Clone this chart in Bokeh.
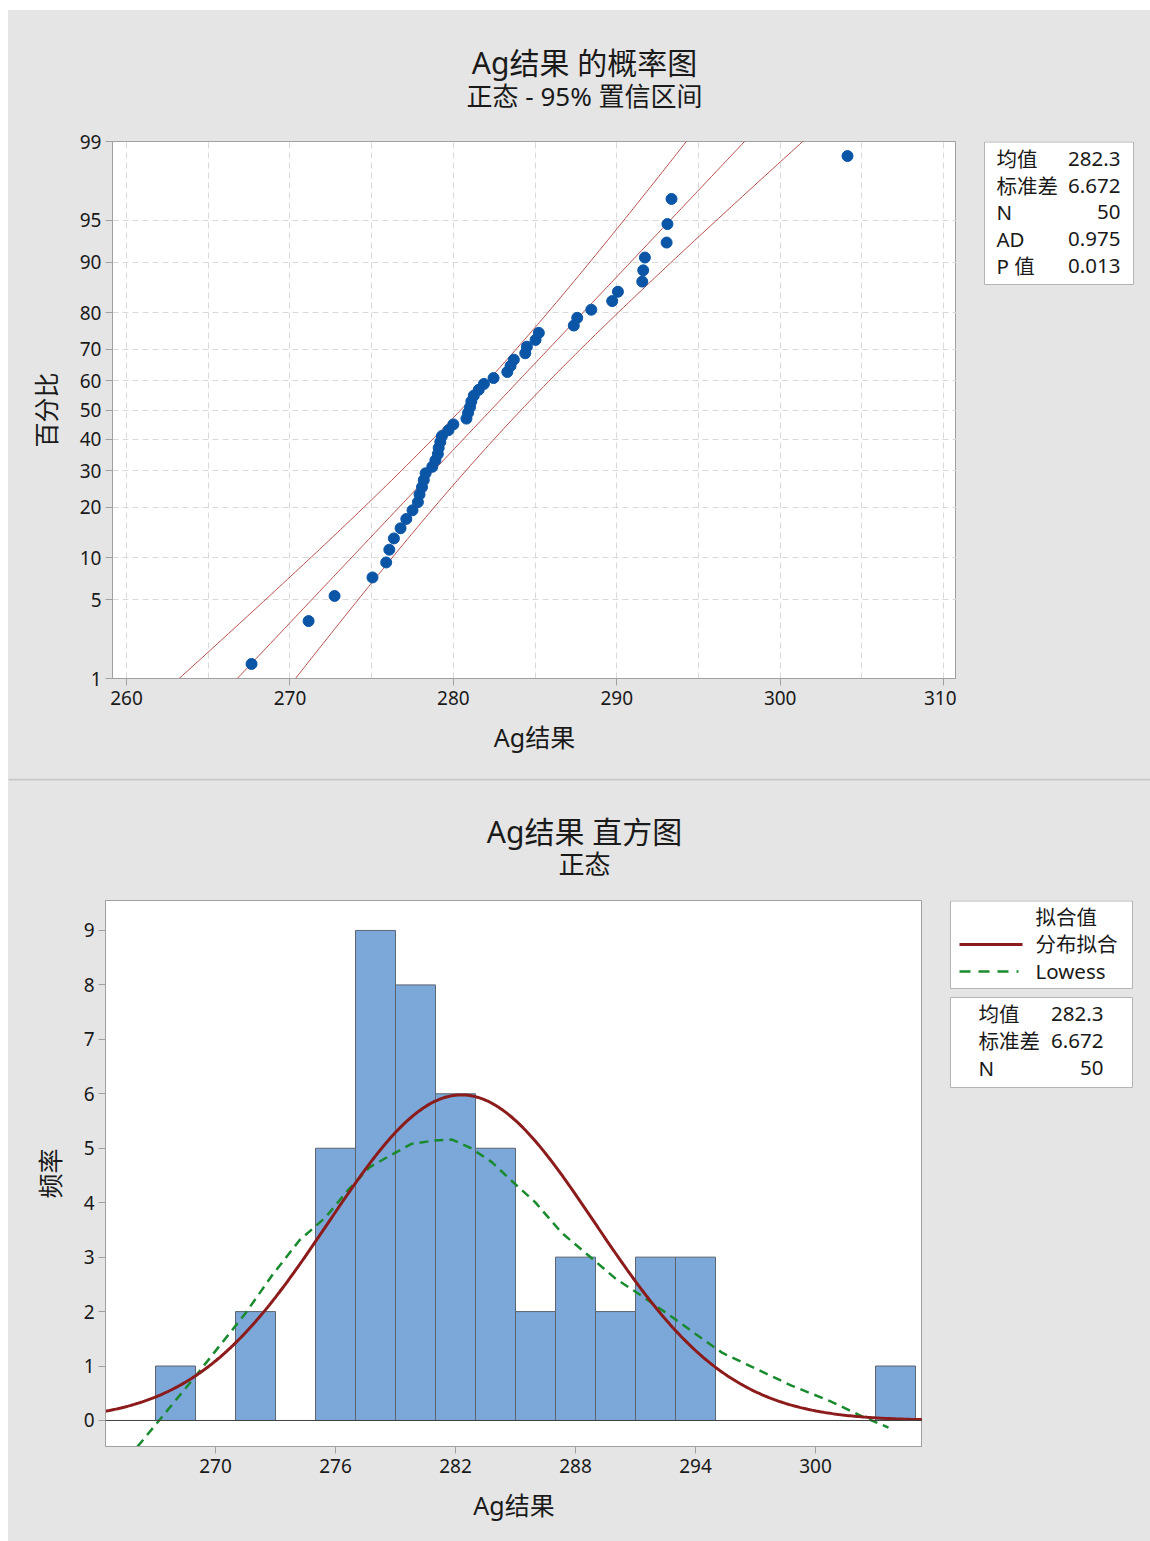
import numpy as np
from statistics import NormalDist
from bokeh.plotting import figure
from bokeh.layouts import column, row
from bokeh.models import Range1d, FixedTicker, Span, Spacer
from bokeh.core.properties import value
from bokeh.embed import file_html
from bokeh.resources import INLINE

# ---------------- data ----------------
AG_VALUES = [267.65, 271.14, 272.73, 275.05, 275.89, 276.08, 276.36, 276.77, 277.12, 277.50,
             277.83, 277.93, 278.08, 278.19, 278.30, 278.71, 278.90, 279.05, 279.10, 279.20,
             279.30, 279.70, 280.00, 280.80, 280.90, 281.02, 281.10, 281.25, 281.55, 281.87,
             282.46, 283.30, 283.50, 283.70, 284.40, 284.50, 285.03, 285.23, 287.37, 287.58,
             288.44, 289.72, 290.07, 291.56, 291.62, 291.72, 293.05, 293.10, 293.35, 304.12]
MEAN = 282.3
STDEV = 6.672
N_OBS = 50
PCT_TICKS = [1, 5, 10, 20, 30, 40, 50, 60, 70, 80, 90, 95, 99]
PROB_X_TICKS = [260, 270, 280, 290, 300, 310]
PROB_X_GRID = [265, 275, 285, 295, 305]
BIN_EDGES = list(range(267, 306, 2))
HIST_X_TICKS = [270, 276, 282, 288, 294, 300]
HIST_Y_TICKS = list(range(10))
LOWESS_X = [266.1, 267.18, 268.97, 271.5, 272.86, 274.2, 275.5, 276.6, 277.7, 278.75, 279.8,
            280.9, 281.83, 282.77, 283.8, 284.9, 285.98, 287.3, 288.65, 289.99, 291.3, 292.67,
            294.0, 295.35, 297.2, 298.8, 300.7, 302.3, 303.65]
LOWESS_Y = [-0.48, 0.0, 0.80, 1.97, 2.68, 3.31, 3.73, 4.22, 4.65, 4.87, 5.08,
            5.14, 5.16, 5.00, 4.75, 4.37, 4.01, 3.45, 3.03, 2.61, 2.29, 1.94,
            1.59, 1.24, 0.92, 0.64, 0.36, 0.08, -0.13]
TOP_STAT_LABELS = ["均值", "标准差", "N", "AD", "P 值"]
TOP_STAT_VALUES = ["282.3", "6.672", "50", "0.975", "0.013"]
BOT_STAT_LABELS = ["均值", "标准差", "N"]
BOT_STAT_VALUES = ["282.3", "6.672", "50"]
LEGEND_HEAD = "拟合值"
LEGEND_ITEMS = ["分布拟合", "Lowess"]

# ---------------- styles ----------------
FONT = "Noto Sans, Noto Sans CJK SC"
BG = "#e5e5e5"
TXT = "#1a1a1a"
AXC = "#a0a0a0"
GRIDC = "#d9d9d9"
SMALL = "20.5px"
ND = NormalDist()


def blank_fig(w, h, x0, x1, ytop, ybot, btop=0, bbot=0):
    """Decoration panel; its data coordinates are page pixels of the frame area."""
    p = figure(width=w, height=h, x_range=Range1d(x0, x1), y_range=Range1d(ybot, ytop),
               output_backend="svg", toolbar_location=None,
               x_axis_location=None, y_axis_location=None,
               min_border=0, min_border_left=0, min_border_right=0,
               min_border_top=btop, min_border_bottom=bbot)
    p.background_fill_color = BG
    p.border_fill_color = BG
    p.outline_line_color = None
    p.grid.visible = False
    return p


def header(top, h, title, sub, ty, sy, sep=False):
    p = blank_fig(1142, h, 8, 1150, top, top + h)
    if sep:
        p.segment(x0=[8], y0=[top + 1], x1=[1150], y1=[top + 1], line_color="#c8c8c8", line_width=2)
    p.text(x=[584], y=[ty], text=[title], text_font=value(FONT), text_font_size="30px",
           text_align="center", text_baseline="middle", text_color=TXT)
    p.text(x=[584], y=[sy], text=[sub], text_font=value(FONT), text_font_size="26px",
           text_align="center", text_baseline="middle", text_color=TXT)
    return p


def style_axes(p, xlabel, ylabel):
    for ax in (p.xaxis[0], p.yaxis[0]):
        ax.axis_line_color = AXC
        ax.major_tick_line_color = AXC
        ax.minor_tick_line_color = None
        ax.major_tick_out = 7
        ax.major_tick_in = 0
        ax.major_label_text_font = FONT
        ax.major_label_text_font_size = "19px"
        ax.major_label_text_color = TXT
        ax.axis_label_text_font = FONT
        ax.axis_label_text_font_size = "25px"
        ax.axis_label_text_font_style = "normal"
        ax.axis_label_text_color = TXT
    p.xaxis.axis_label = xlabel
    p.yaxis.axis_label = ylabel
    p.xaxis.major_label_standoff = 5
    p.yaxis.major_label_standoff = 4
    p.xaxis.axis_label_standoff = 12
    p.yaxis.axis_label_standoff = 14
    p.background_fill_color = "white"
    p.border_fill_color = BG
    p.outline_line_color = AXC


def stat_text(p, xs, ys, texts, align):
    p.text(x=xs, y=ys, text=texts, text_font=value(FONT), text_font_size=SMALL,
           text_align=align, text_baseline="middle", text_color=TXT)


# ---------------- probability plot ----------------
zt = [round(ND.inv_cdf(v / 100.0), 6) for v in PCT_TICKS]
p1 = figure(width=948, height=657, x_range=Range1d(259.14, 310.79), y_range=Range1d(zt[0], zt[-1]),
            output_backend="svg", toolbar_location=None,
            min_border_left=104, min_border_right=0, min_border_top=20, min_border_bottom=100)
style_axes(p1, "Ag结果", "百分比")
p1.xaxis.ticker = FixedTicker(ticks=PROB_X_TICKS, minor_ticks=PROB_X_GRID)
p1.yaxis.ticker = FixedTicker(ticks=zt)
p1.yaxis.major_label_overrides = {z: str(v) for z, v in zip(zt, PCT_TICKS)}
for g in (p1.xgrid[0], p1.ygrid[0]):
    g.grid_line_color = GRIDC
    g.grid_line_dash = "6 4"
p1.xgrid.minor_grid_line_color = GRIDC
p1.xgrid.minor_grid_line_dash = "6 4"

zz = np.linspace(-3.2, 3.2, 300)
xc = MEAN + zz * STDEV
se = STDEV * np.sqrt(1.0 / N_OBS + zz ** 2 / (2.0 * N_OBS))
zc = ND.inv_cdf(0.975)
for xs in (xc - zc * se, xc, xc + zc * se):
    p1.line(xs, zz, line_color="#b03a3a", line_width=1.0, line_alpha=0.9)

sorted_vals = sorted(AG_VALUES)
n = len(sorted_vals)
zpts = [ND.inv_cdf((i + 1 - 0.3) / (n + 0.4)) for i in range(n)]
p1.scatter(sorted_vals, zpts, size=11, fill_color="#0a55a6", line_color="#0a55a6")

# side panel, frame = page rows 141..678, columns 956..1150
side1 = blank_fig(194, 657, 956, 1150, 141, 678, btop=20, bbot=100)
side1.quad(left=[984], right=[1133], top=[141.5], bottom=[284], fill_color="white",
           line_color="#b4b4b4", line_width=1)
rows1 = [158, 185, 211, 238, 265]
stat_text(side1, [996] * 5, rows1, TOP_STAT_LABELS, "left")
stat_text(side1, [1120] * 5, rows1, TOP_STAT_VALUES, "right")

# ---------------- histogram ----------------
counts, edges = np.histogram(AG_VALUES, bins=BIN_EDGES)
mask = counts > 0
p2 = figure(width=914, height=651, x_range=Range1d(264.5, 305.35), y_range=Range1d(-0.478, 9.55),
            output_backend="svg", toolbar_location=None,
            min_border_left=97, min_border_right=0, min_border_top=10, min_border_bottom=95)
style_axes(p2, "Ag结果", "频率")
p2.xaxis.ticker = FixedTicker(ticks=HIST_X_TICKS)
p2.yaxis.ticker = FixedTicker(ticks=HIST_Y_TICKS)
p2.grid.visible = False
p2.add_layout(Span(location=0, dimension="width", line_color="#404040", line_width=1))
p2.quad(left=edges[:-1][mask], right=edges[1:][mask], top=counts[mask], bottom=0,
        fill_color="#7ca7d9", line_color="#5c6470", line_width=1)
bw = BIN_EDGES[1] - BIN_EDGES[0]
hx = np.linspace(264.5, 305.35, 400)
hy = N_OBS * bw * np.exp(-0.5 * ((hx - MEAN) / STDEV) ** 2) / (STDEV * np.sqrt(2 * np.pi))
p2.line(LOWESS_X, LOWESS_Y, line_color="#1a8a2e", line_width=2.5, line_dash="9 6")
p2.line(hx, hy, line_color="#8c1c1c", line_width=3)

# side panel, frame = page rows 900..1446, columns 922..1150
side2 = blank_fig(228, 651, 922, 1150, 900, 1446, btop=10, bbot=95)
side2.quad(left=[950], right=[1132], top=[900.5], bottom=[988], fill_color="white",
           line_color="#b4b4b4", line_width=1)
side2.quad(left=[950], right=[1132], top=[997], bottom=[1087], fill_color="white",
           line_color="#b4b4b4", line_width=1)
stat_text(side2, [1035, 1035, 1035], [916, 943, 970], [LEGEND_HEAD] + LEGEND_ITEMS, "left")
side2.segment(x0=[959], y0=[944], x1=[1022], y1=[944], line_color="#8c1c1c", line_width=3)
side2.segment(x0=[959], y0=[971], x1=[1018], y1=[971], line_color="#1a8a2e", line_width=2.5,
              line_dash="11 8")
rows2 = [1013, 1040, 1067]
stat_text(side2, [978] * 3, rows2, BOT_STAT_LABELS, "left")
stat_text(side2, [1103] * 3, rows2, BOT_STAT_VALUES, "right")

h1 = header(10, 111, "Ag结果 的概率图", "正态 - 95% 置信区间", 62, 95)
h2 = header(778, 112, "Ag结果 直方图", "正态", 831, 863, sep=True)

inner = column(h1, row(p1, side1, spacing=0, styles={"background-color": BG}),
               h2, row(p2, side2, spacing=0, styles={"background-color": BG}),
               spacing=0, styles={"background-color": BG})
layout = row(Spacer(width=8, height=10), column(Spacer(width=10, height=10), inner, spacing=0), spacing=0)
open("out.html", "w").write(file_html(layout, INLINE))
